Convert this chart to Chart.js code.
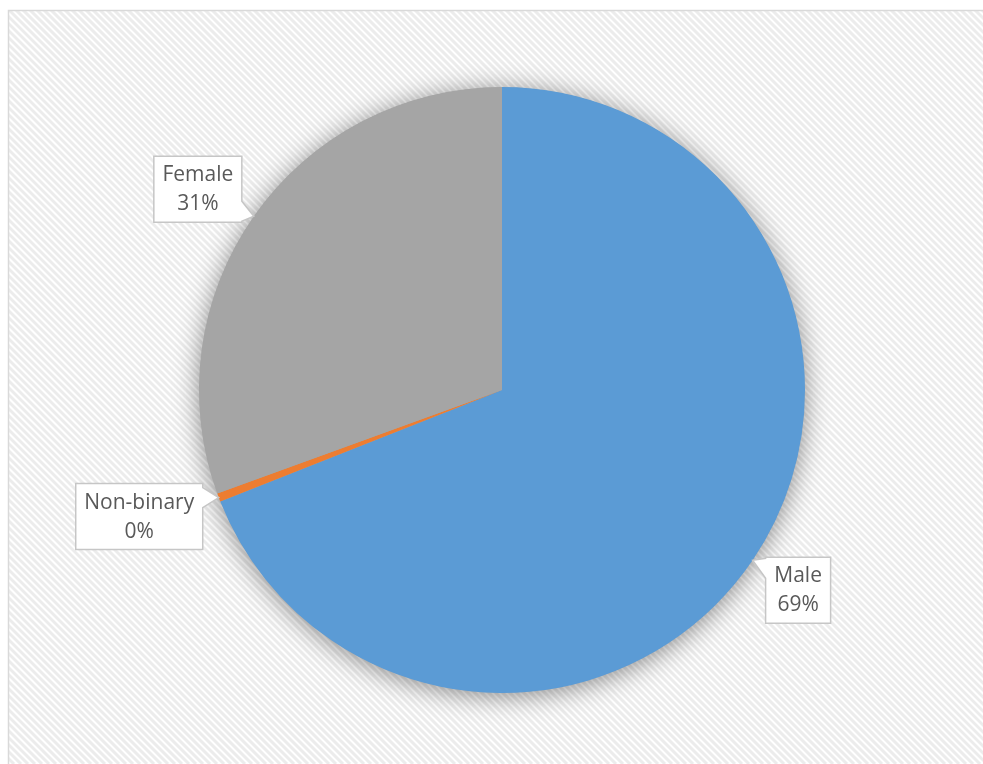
<!DOCTYPE html>
<html>
<head>
<meta charset="utf-8">
<script src="https://cdn.jsdelivr.net/npm/chart.js@4.4.1/dist/chart.umd.min.js"></script>
<style>
  html, body { margin: 0; padding: 0; background: #ffffff; }
  #wrap { width: 983px; height: 764px; }
</style>
</head>
<body>
<div id="wrap"><canvas id="genderPie" width="983" height="764"></canvas></div>
<script>
// Respondents by gender (share of total, %)
const categories = ['Male', 'Non-binary', 'Female'];
const shares = [69.0, 0.45, 30.55];
const sliceColors = ['#5B9BD5', '#ED7D31', '#A5A5A5'];

const LABEL_FONT = '21px "Open Sans", "Noto Sans", sans-serif';
const LABEL_COLOR = '#595959';

// Frame with light diagonal hatching behind the chart
const hatchedFrame = {
  id: 'hatchedFrame',
  beforeDraw(chart) {
    const ctx = chart.ctx;
    const W = chart.width, H = chart.height;
    const fx = 8, fy = 10;
    ctx.save();
    ctx.fillStyle = '#ffffff';
    ctx.fillRect(0, 0, W, H);
    ctx.beginPath();
    ctx.rect(fx, fy, W - fx, H - fy);
    ctx.clip();
    ctx.strokeStyle = '#ececec';
    ctx.lineWidth = 3;
    const step = 7;
    ctx.beginPath();
    for (let k = -H; k < W + H; k += step) {
      ctx.moveTo(k, 0);
      ctx.lineTo(k + H, H);
    }
    ctx.stroke();
    ctx.restore();
    ctx.save();
    ctx.strokeStyle = '#d9d9d9';
    ctx.lineWidth = 1.5;
    ctx.beginPath();
    ctx.moveTo(fx + 0.5, H);
    ctx.lineTo(fx + 0.5, fy + 0.5);
    ctx.lineTo(W, fy + 0.5);
    ctx.stroke();
    ctx.restore();
  }
};

// Soft drop shadow under the whole pie
const pieShadow = {
  id: 'pieShadow',
  beforeDatasetsDraw(chart) {
    const arc = chart.getDatasetMeta(0).data[0];
    if (!arc) return;
    const { x, y, outerRadius } = arc.getProps(['x', 'y', 'outerRadius'], true);
    const ctx = chart.ctx;
    ctx.save();
    ctx.shadowColor = 'rgba(0,0,0,0.45)';
    ctx.shadowBlur = 26;
    ctx.shadowOffsetY = 3;
    ctx.fillStyle = '#a5a5a5';
    ctx.beginPath();
    ctx.arc(x, y, outerRadius - 0.5, 0, Math.PI * 2);
    ctx.fill();
    ctx.restore();
  }
};

// Callout labels: box placement relative to the slice's edge point
const calloutPlacement = [
  { side: 'left',  dx: 13, dy: -3 },   // Male: box to the lower right of the tip
  { side: 'right', dx: 16, dy: -14 },  // Non-binary: box to the left
  { side: 'right', dx: 12, dy: -60 }   // Female: box to the upper left
];

const callouts = {
  id: 'callouts',
  afterDatasetsDraw(chart) {
    const ctx = chart.ctx;
    const meta = chart.getDatasetMeta(0);
    const data = chart.data.datasets[0].data;
    const total = data.reduce((a, b) => a + b, 0);
    ctx.save();
    ctx.font = LABEL_FONT;
    meta.data.forEach((arc, i) => {
      const p = arc.getProps(['x', 'y', 'startAngle', 'endAngle', 'outerRadius'], true);
      const mid = (p.startAngle + p.endAngle) / 2;
      const tx = p.x + Math.cos(mid) * p.outerRadius;
      const ty = p.y + Math.sin(mid) * p.outerRadius;
      const line1 = chart.data.labels[i];
      const line2 = Math.round(data[i] / total * 100) + '%';
      const tw = Math.max(ctx.measureText(line1).width, ctx.measureText(line2).width);
      const w = Math.round(tw + 17);
      const h = 66;
      const pl = calloutPlacement[i];
      let left, top;
      if (pl.side === 'left') { left = tx + pl.dx; }
      else { left = tx - pl.dx - w; }
      top = ty + pl.dy;
      const right = left + w, bottom = top + h;
      const bLen = 20;
      let b0 = Math.min(Math.max(ty - 10, top + 1), bottom - bLen - 1);
      const b1 = b0 + bLen;

      ctx.beginPath();
      ctx.moveTo(left, top);
      if (pl.side === 'left') {
        ctx.lineTo(right, top);
        ctx.lineTo(right, bottom);
        ctx.lineTo(left, bottom);
        ctx.lineTo(left, b1);
        ctx.lineTo(tx, ty);
        ctx.lineTo(left, b0);
        ctx.closePath();
      } else {
        ctx.lineTo(right, top);
        ctx.lineTo(right, b0);
        ctx.lineTo(tx, ty);
        ctx.lineTo(right, b1);
        ctx.lineTo(right, bottom);
        ctx.lineTo(left, bottom);
        ctx.closePath();
      }
      ctx.fillStyle = '#ffffff';
      ctx.fill();
      ctx.strokeStyle = '#c6c6c6';
      ctx.lineWidth = 1.5;
      ctx.lineJoin = 'miter';
      ctx.stroke();

      ctx.fillStyle = LABEL_COLOR;
      ctx.textAlign = 'center';
      ctx.textBaseline = 'middle';
      const cx = (left + right) / 2, cy = (top + bottom) / 2;
      ctx.fillText(line1, cx, cy - 14);
      ctx.fillText(line2, cx, cy + 15);
    });
    ctx.restore();
  }
};

new Chart(document.getElementById('genderPie'), {
  type: 'pie',
  data: {
    labels: categories,
    datasets: [{
      data: shares,
      backgroundColor: sliceColors,
      borderWidth: 0
    }]
  },
  options: {
    responsive: false,
    animation: false,
    layout: { padding: { top: 87, bottom: 71, left: 199, right: 178 } },
    plugins: {
      legend: { display: false },
      tooltip: { enabled: false }
    }
  },
  plugins: [hatchedFrame, pieShadow, callouts]
});
</script>
</body>
</html>
